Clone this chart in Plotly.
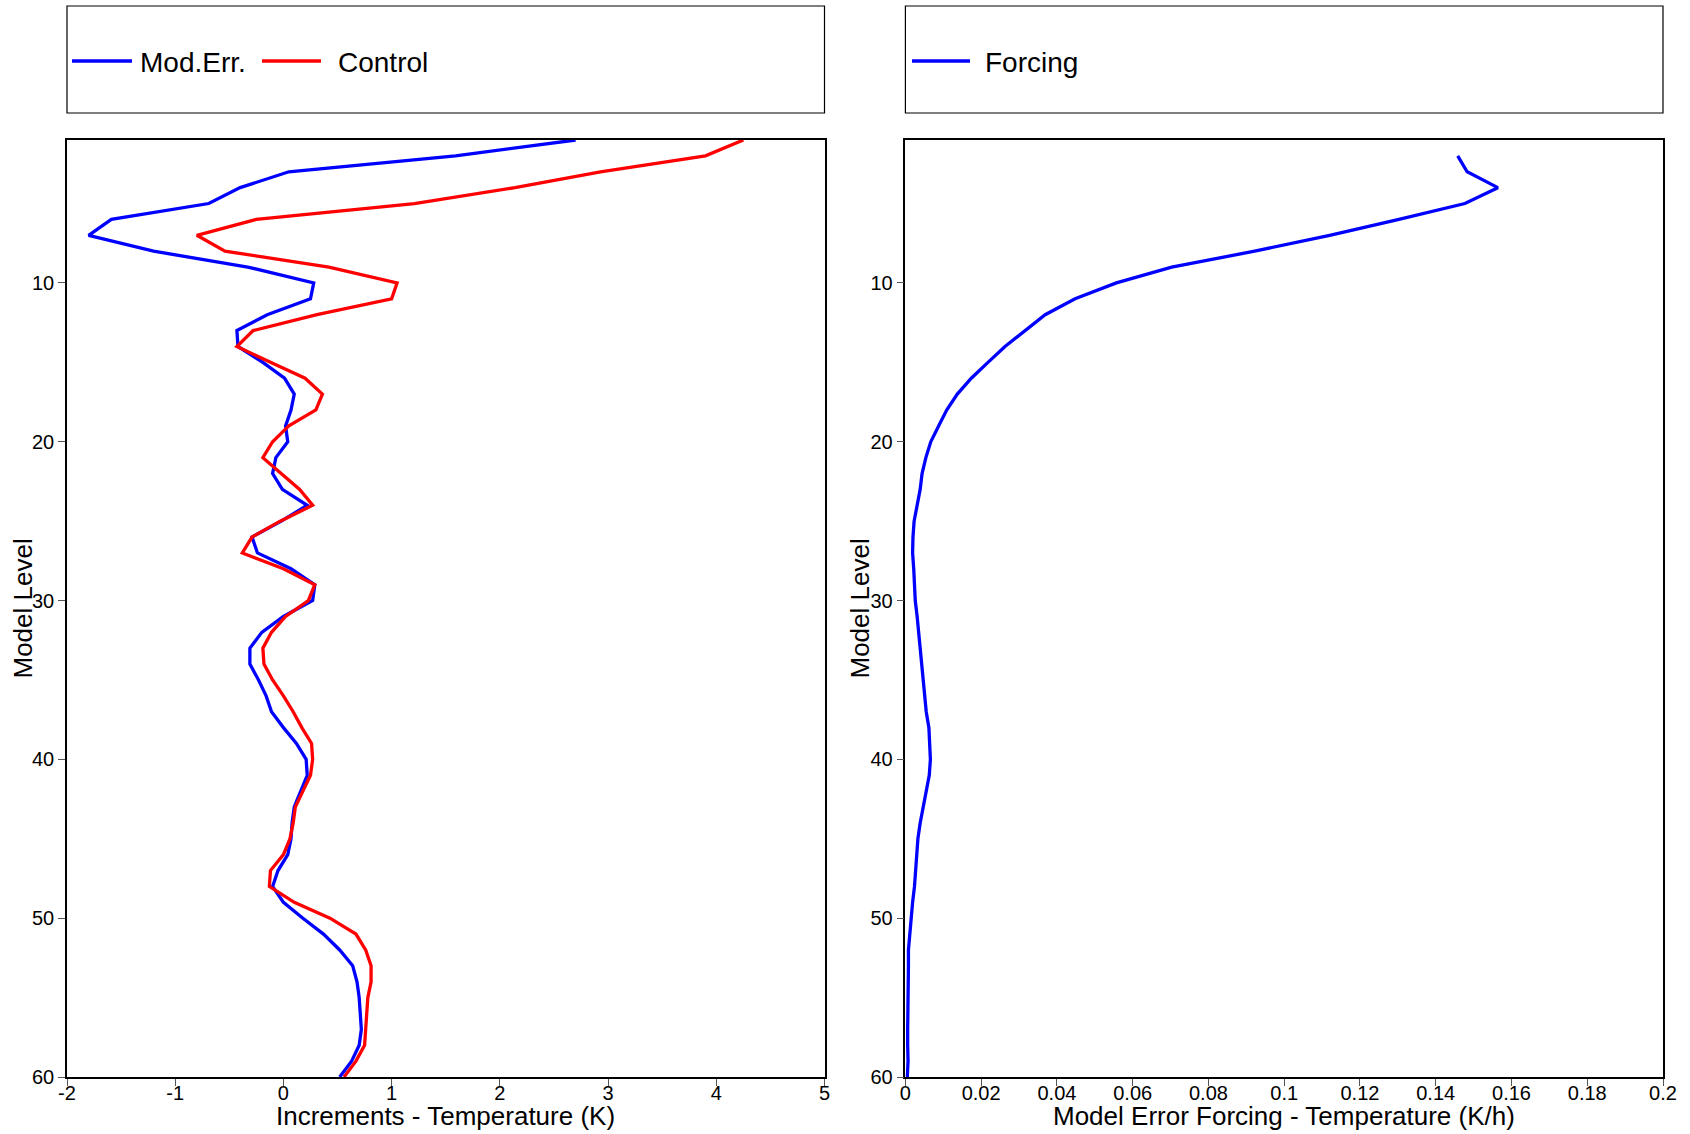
import plotly.graph_objects as go

levels = list(range(1, 61))

mod_err = [2.70, 1.59, 0.05, -0.40, -0.69, -1.59, -1.80, -1.20, -0.33, 0.28,
           0.25, -0.15, -0.43, -0.42, -0.19, 0.01, 0.10, 0.07, 0.02, 0.04,
           -0.07, -0.10, -0.01, 0.22, -0.02, -0.29, -0.24, 0.07, 0.29, 0.27,
           0.00, -0.20, -0.31, -0.31, -0.23, -0.16, -0.11, 0.00, 0.12, 0.21,
           0.22, 0.16, 0.10, 0.08, 0.07, 0.04, -0.05, -0.10, 0.00, 0.18,
           0.37, 0.52, 0.64, 0.68, 0.70, 0.71, 0.72, 0.70, 0.63, 0.52]

control = [4.25, 3.90, 2.93, 2.14, 1.21, -0.25, -0.80, -0.54, 0.42, 1.05,
           1.00, 0.31, -0.28, -0.43, -0.12, 0.20, 0.36, 0.30, 0.05, -0.10,
           -0.19, -0.02, 0.15, 0.27, -0.03, -0.29, -0.38, 0.00, 0.29, 0.23,
           0.02, -0.11, -0.19, -0.18, -0.10, 0.00, 0.09, 0.17, 0.26, 0.27,
           0.25, 0.18, 0.11, 0.09, 0.06, 0.00, -0.12, -0.13, 0.10, 0.43,
           0.67, 0.76, 0.81, 0.81, 0.78, 0.77, 0.76, 0.75, 0.67, 0.56]

forcing_levels = list(range(2, 61))
forcing = [0.1458, 0.1483, 0.1564, 0.1477, 0.1303, 0.1120, 0.0922, 0.0703, 0.0557,
           0.0448, 0.0369, 0.0315, 0.0263, 0.0218, 0.0174, 0.0137, 0.0109, 0.0088,
           0.0067, 0.0054, 0.0044, 0.0039, 0.0032, 0.0023, 0.0020, 0.0019, 0.0022,
           0.0024, 0.0026, 0.0031, 0.0035, 0.0039, 0.0043, 0.0048, 0.0052, 0.0055,
           0.0062, 0.0065, 0.0066, 0.0063, 0.0055, 0.0046, 0.0039, 0.0033, 0.0030,
           0.0028, 0.0024, 0.0019, 0.0016, 0.0011, 0.0008, 0.0008, 0.0007, 0.0007,
           0.0007, 0.0006, 0.0006, 0.0007, 0.0005]

left_ticks = [-2, -1, 0, 1, 2, 3, 4, 5]
left_ticktext = ["-2", "-1", "0", "1", "2", "3", "4", "5"]
right_ticks = [0, 0.02, 0.04, 0.06, 0.08, 0.1, 0.12, 0.14, 0.16, 0.18, 0.2]
right_ticktext = ["0", "0.02", "0.04", "0.06", "0.08", "0.1", "0.12", "0.14", "0.16", "0.18", "0.2"]
level_ticks = [10, 20, 30, 40, 50, 60]

FONT = "Liberation Sans, Arial, sans-serif"
W, H = 1690, 1134
ML, MT = 67, 140
MB = H - 1077
MR = W - 1663
PW = W - ML - MR
PH = H - MT - MB


def px(x):
    # page pixel -> paper fraction
    return (x - ML) / PW


def py(y):
    return (H - MB - y) / PH


fig = go.Figure()
fig.add_trace(go.Scatter(x=mod_err, y=levels, mode="lines", name="Mod.Err.",
                         line=dict(color="#0000ff", width=3.3), xaxis="x", yaxis="y",
                         showlegend=False))
fig.add_trace(go.Scatter(x=control, y=levels, mode="lines", name="Control",
                         line=dict(color="#ff0000", width=3.3), xaxis="x", yaxis="y",
                         showlegend=False))
fig.add_trace(go.Scatter(x=forcing, y=forcing_levels, mode="lines", name="Forcing",
                         line=dict(color="#0000ff", width=3.3), xaxis="x2", yaxis="y2",
                         showlegend=False))

axis_common = dict(showgrid=False, zeroline=False, showline=True, mirror=True,
                   linecolor="black", ticks="outside", tickcolor="#555555",
                   tickwidth=1, ticklen=7,
                   tickfont=dict(family=FONT, size=20, color="black"))

fig.update_layout(
    width=W, height=H,
    margin=dict(l=ML, r=MR, t=MT, b=MB),
    paper_bgcolor="white", plot_bgcolor="white",
    font=dict(family=FONT, color="black"),
    xaxis=dict(domain=[0, px(824.5)], range=[-2, 5], tickvals=left_ticks,
               ticktext=left_ticktext, linewidth=2,
               ticklabelstandoff=-10, **axis_common),
    yaxis=dict(domain=[0, 1], range=[60, 1], tickvals=level_ticks,
               linewidth=1.5, anchor="x", **axis_common),
    xaxis2=dict(domain=[px(905.4), 1], range=[0, 0.2], tickvals=right_ticks,
                ticktext=right_ticktext, linewidth=2, anchor="y2",
                ticklabelstandoff=-10, **axis_common),
    yaxis2=dict(domain=[0, 1], range=[60, 1], tickvals=level_ticks,
                linewidth=1.5, anchor="x2", **axis_common),
)

shapes = []
# legend boxes
for x0, x1 in [(67, 824.5), (905.4, 1663)]:
    shapes.append(dict(type="rect", xref="paper", yref="paper",
                       x0=px(x0), x1=px(x1), y0=py(113), y1=py(6),
                       line=dict(color="black", width=1.2), fillcolor="rgba(0,0,0,0)"))
# legend samples
legend_items = [
    (72, 132, "#0000ff", 138, "Mod.Err."),
    (262, 321, "#ff0000", 336, "Control"),
    (912, 970, "#0000ff", 983, "Forcing"),
]
annotations = []
for x0, x1, col, tx, label in legend_items:
    shapes.append(dict(type="line", xref="paper", yref="paper",
                       x0=px(x0), x1=px(x1), y0=py(61), y1=py(61),
                       line=dict(color=col, width=3.3)))
    annotations.append(dict(text=label, xref="paper", yref="paper", x=px(tx), y=py(62),
                            xanchor="left", yanchor="middle", showarrow=False,
                            font=dict(family=FONT, size=28, color="black")))

# axis titles
for text, x, y, ang in [
    ("Model Level", px(22), 0.5, -90),
    ("Model Level", px(859), 0.5, -90),
    ("Increments - Temperature (K)", px(445), py(1116), 0),
    ("Model Error Forcing - Temperature (K/h)", px(1284), py(1116), 0),
]:
    annotations.append(dict(text=text, xref="paper", yref="paper", x=x, y=y,
                            xanchor="center", yanchor="middle", showarrow=False,
                            textangle=ang,
                            font=dict(family=FONT, size=26, color="black")))

fig.update_layout(shapes=shapes, annotations=annotations)
fig.write_html("out.html",
               config={"displayModeBar": False},
               post_script="document.body.style.margin='0';document.body.style.overflow='hidden';")
